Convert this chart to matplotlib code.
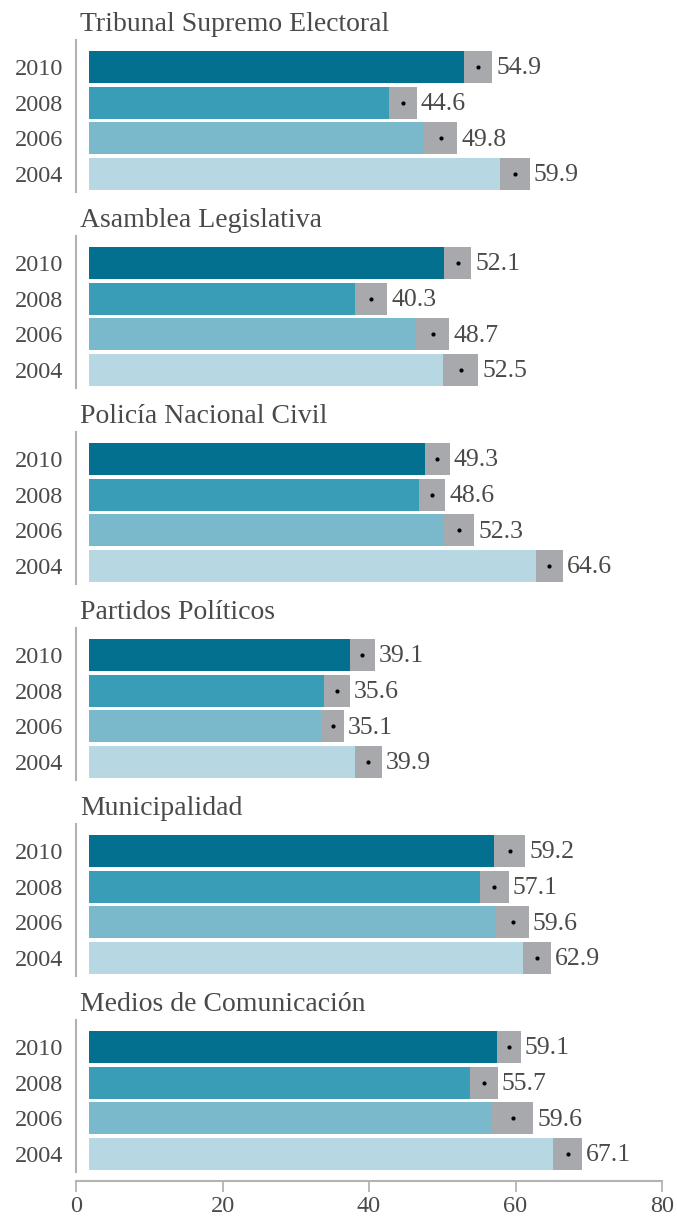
import matplotlib
matplotlib.use("Agg")
import matplotlib.pyplot as plt
import numpy as np

plt.rcParams['font.family'] = ['Liberation Serif', 'DejaVu Serif']

# datos
instituciones = ["Tribunal Supremo Electoral", "Asamblea Legislativa",
                 "Policía Nacional Civil", "Partidos Políticos",
                 "Municipalidad", "Medios de Comunicación"]
years = ["2010", "2008", "2006", "2004"]

tse = [54.9, 44.6, 49.8, 59.9]
asamblea = [52.1, 40.3, 48.7, 52.5]
pnc = [49.3, 48.6, 52.3, 64.6]
partidos = [39.1, 35.6, 35.1, 39.9]
municipalidad = [59.2, 57.1, 59.6, 62.9]
medios = [59.1, 55.7, 59.6, 67.1]

# margen de error (intervalo de confianza)
tse_err = [1.9, 1.9, 2.25, 2.05]
asamblea_err = [1.85, 2.2, 2.25, 2.4]
pnc_err = [1.7, 1.8, 2.05, 1.85]
partidos_err = [1.7, 1.75, 1.5, 1.85]
municipalidad_err = [2.1, 2.0, 2.2, 1.9]
medios_err = [1.6, 1.9, 2.8, 2.0]

valores = [tse, asamblea, pnc, partidos, municipalidad, medios]
errores = [tse_err, asamblea_err, pnc_err, partidos_err, municipalidad_err, medios_err]

colores = ['#03708f', '#3a9db8', '#7ab8cb', '#b7d7e3']
gris = '#a8a9ad'
texto = '#4a4a4a'
eje = '#b3b3b3'

W, H = 677, 1217
fig = plt.figure(figsize=(W / 100, H / 100), dpi=100)

x0, ancho = 76, 586
inicio = 1.8  # las barras arrancan un poco a la derecha del eje
y = np.arange(len(years))

for i, (nombre, vals, errs) in enumerate(zip(instituciones, valores, errores)):
    top = 40 + 196 * i
    alto = 152
    ax = fig.add_axes([x0 / W, 1 - (top + alto) / H, ancho / W, alto / H])
    vals = np.array(vals)
    errs = np.array(errs)

    ax.barh(y, vals - errs - inicio, left=inicio, height=0.9, color=colores, zorder=2)
    ax.barh(y, 2 * errs, left=vals - errs, height=0.9, color=gris, zorder=2)
    ax.plot(vals, y, 'o', color='black', markersize=2, zorder=3)
    for yy, v, e in zip(y, vals, errs):
        ax.text(v + e + 0.55, yy + 0.04, f"{v:.1f}", va='center', ha='left',
                fontsize=18.5, color=texto)

    ax.set_xlim(0, 80)
    ax.set_ylim(3.51, -0.76)
    ax.set_yticks(y)
    ax.set_yticklabels(years, fontsize=17.5, color=texto)
    ax.tick_params(axis='y', length=0, pad=9)

    for s in ['top', 'right']:
        ax.spines[s].set_visible(False)
    ax.spines['left'].set_color(eje)
    ax.spines['left'].set_linewidth(1.5)

    if i < len(instituciones) - 1:
        ax.spines['bottom'].set_visible(False)
        ax.set_xticks([])
    else:
        ax.spines['bottom'].set_position(('outward', 6.5))
        ax.spines['bottom'].set_color(eje)
        ax.spines['bottom'].set_linewidth(1.5)
        ax.set_xticks([0, 20, 40, 60, 80])
        ax.tick_params(axis='x', direction='out', length=8, width=1.3,
                       color=eje, labelsize=17.5, labelcolor=texto, pad=3)

    fig.text(80 / W, 1 - (31 + 196 * i) / H, nombre, fontsize=20,
             color=texto, ha='left', va='baseline')

fig.savefig('out.png', dpi=100)
